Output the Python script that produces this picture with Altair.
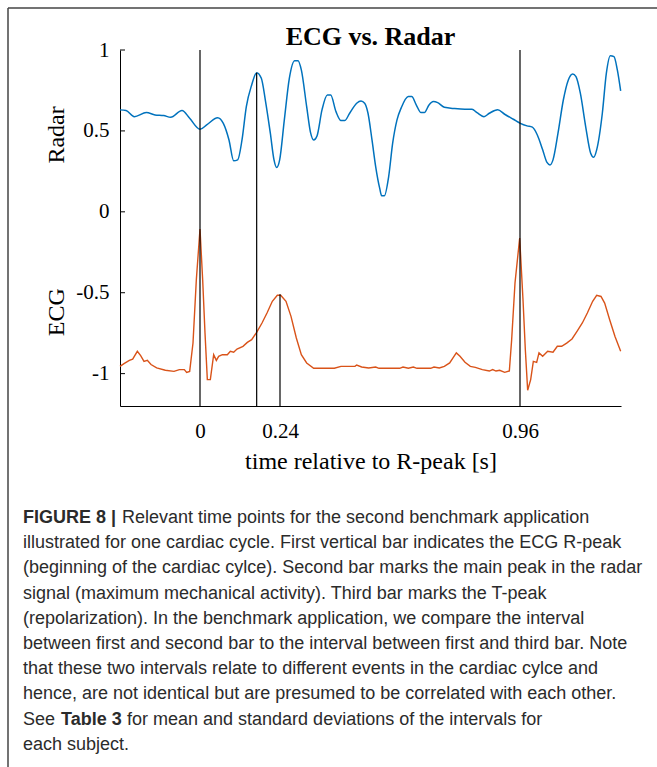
import altair as alt
import pandas as pd

# ---------------- data ----------------
radar_t = [-0.240, -0.222, -0.197, -0.161, -0.135, -0.109, -0.088, -0.054, -0.031, 0.000,
           0.020, 0.053, 0.070, 0.087, 0.101, 0.113, 0.126, 0.139, 0.155, 0.170,
           0.184, 0.196, 0.211, 0.222, 0.230, 0.239, 0.253, 0.268, 0.284, 0.294,
           0.304, 0.320, 0.332, 0.341, 0.351, 0.366, 0.382, 0.392, 0.408, 0.423,
           0.434, 0.449, 0.470, 0.483, 0.494, 0.504, 0.516, 0.527, 0.539, 0.545,
           0.553, 0.566, 0.578, 0.591, 0.604, 0.625, 0.635, 0.649, 0.663, 0.673,
           0.687, 0.700, 0.713, 0.733, 0.764, 0.795, 0.816, 0.831, 0.852, 0.868,
           0.893, 0.914, 0.940, 0.961, 0.981, 0.997, 1.012, 1.028, 1.041, 1.050,
           1.059, 1.074, 1.090, 1.105, 1.118, 1.128, 1.141, 1.157, 1.172, 1.181,
           1.190, 1.207, 1.219, 1.231, 1.242, 1.252, 1.262]
radar_v = [0.630, 0.626, 0.588, 0.613, 0.599, 0.595, 0.584, 0.626, 0.578, 0.510,
           0.537, 0.582, 0.547, 0.444, 0.315, 0.321, 0.444, 0.650, 0.784, 0.860,
           0.825, 0.691, 0.486, 0.321, 0.274, 0.321, 0.568, 0.825, 0.934, 0.934,
           0.877, 0.650, 0.486, 0.444, 0.469, 0.630, 0.722, 0.722, 0.619, 0.564,
           0.564, 0.609, 0.671, 0.685, 0.671, 0.609, 0.444, 0.280, 0.146, 0.099,
           0.099, 0.218, 0.424, 0.568, 0.644, 0.712, 0.712, 0.660, 0.613, 0.613,
           0.660, 0.681, 0.675, 0.646, 0.638, 0.634, 0.634, 0.613, 0.588, 0.609,
           0.630, 0.603, 0.572, 0.547, 0.531, 0.523, 0.475, 0.383, 0.305, 0.290,
           0.321, 0.486, 0.691, 0.815, 0.852, 0.835, 0.733, 0.527, 0.362, 0.337,
           0.383, 0.609, 0.856, 0.965, 0.959, 0.877, 0.747]

ecg_t = [-0.240, -0.228, -0.212, -0.202, -0.188, -0.178, -0.168, -0.158, -0.147, -0.130,
         -0.104, -0.078, -0.062, -0.047, -0.040, -0.031, -0.021, -0.011, 0.000, 0.008,
         0.015, 0.022, 0.031, 0.041, 0.049, 0.056, 0.067, 0.082, 0.091, 0.101,
         0.111, 0.129, 0.142, 0.155, 0.170, 0.186, 0.201, 0.217, 0.232, 0.242,
         0.258, 0.273, 0.289, 0.304, 0.320, 0.341, 0.403, 0.423, 0.465, 0.470,
         0.485, 0.506, 0.527, 0.537, 0.599, 0.609, 0.625, 0.640, 0.651, 0.692,
         0.702, 0.718, 0.733, 0.749, 0.759, 0.769, 0.780, 0.795, 0.811, 0.826,
         0.847, 0.868, 0.878, 0.888, 0.899, 0.914, 0.928, 0.935, 0.945, 0.959,
         0.969, 0.976, 0.983, 0.992, 1.000, 1.010, 1.017, 1.028, 1.043, 1.059,
         1.072, 1.085, 1.100, 1.116, 1.131, 1.147, 1.162, 1.178, 1.190, 1.203,
         1.214, 1.229, 1.245, 1.262]
ecg_v = [-0.955, -0.938, -0.918, -0.910, -0.862, -0.889, -0.924, -0.918, -0.944, -0.965,
         -0.979, -0.986, -0.975, -0.975, -0.992, -0.986, -0.811, -0.420, -0.107, -0.420,
         -0.749, -1.037, -1.037, -0.883, -0.918, -0.893, -0.883, -0.883, -0.862, -0.868,
         -0.848, -0.831, -0.807, -0.790, -0.745, -0.687, -0.625, -0.553, -0.516, -0.516,
         -0.553, -0.646, -0.780, -0.883, -0.934, -0.967, -0.967, -0.955, -0.955, -0.947,
         -0.959, -0.965, -0.959, -0.967, -0.967, -0.959, -0.967, -0.959, -0.967, -0.967,
         -0.959, -0.965, -0.955, -0.934, -0.903, -0.872, -0.893, -0.930, -0.955, -0.961,
         -0.975, -0.984, -0.975, -0.984, -0.979, -0.992, -0.984, -0.790, -0.440, -0.162,
         -0.543, -0.852, -1.103, -1.037, -0.924, -0.930, -0.872, -0.893, -0.862, -0.868,
         -0.831, -0.831, -0.811, -0.786, -0.739, -0.687, -0.625, -0.553, -0.516, -0.523,
         -0.564, -0.667, -0.770, -0.862]

bar_t = [0.0, 0.17, 0.24, 0.96]
bar_top = [1.0, 0.86, -0.51, 1.0]

x_ticks = [0, 0.24, 0.96]
y_ticks = [-1, -0.5, 0, 0.5, 1]
x_domain = [-0.24, 1.263]
y_domain = [-1.2, 1.0]

chart_title = "ECG vs. Radar"
x_title = "time relative to R-peak [s]"
y_titles = ["Radar", "ECG"]
y_title_at = [0.475, -0.62]

caption_lines = [
    "Relevant time points for the second benchmark application",
    "illustrated for one cardiac cycle. First vertical bar indicates the ECG R-peak",
    "(beginning of the cardiac cylce). Second bar marks the main peak in the radar",
    "signal (maximum mechanical activity). Third bar marks the T-peak",
    "(repolarization). In the benchmark application, we compare the interval",
    "between first and second bar to the interval between first and third bar. Note",
    "that these two intervals relate to different events in the cardiac cylce and",
    "hence, are not identical but are presumed to be correlated with each other.",
    "for mean and standard deviations of the intervals for",
    "each subject.",
]
caption_bold = ["FIGURE 8 |", "Table 3"]
caption_see = "See"

# ---------------- layout ----------------
W, H = 501, 356
PAD = {"left": 120, "top": 50, "right": 36, "bottom": 361}
SERIF = "Liberation Serif"
SANS = "Liberation Sans"

radar_df = pd.DataFrame({"t": radar_t, "v": radar_v})
ecg_df = pd.DataFrame({"t": ecg_t, "v": ecg_v})
bars_df = pd.DataFrame({"t": bar_t, "top": bar_top, "bot": [y_domain[0]] * len(bar_t)})
yt_df = pd.DataFrame({"yt": y_ticks})
ylab_df = pd.DataFrame({"lab": y_titles, "pos": y_title_at})
one = pd.DataFrame({"k": [0]})

xs = alt.Scale(domain=x_domain, nice=False, zero=False)
ys = alt.Scale(domain=y_domain, nice=False, zero=False)

x_axis = alt.Axis(values=x_ticks, labelExpr="'' + datum.value", title=x_title,
                  grid=False, tickSize=0, labelPadding=31, labelBaseline="alphabetic",
                  labelFont=SERIF, labelFontSize=21, labelColor="black",
                  titleFont=SERIF, titleFontSize=24, titleFontWeight="normal",
                  titleColor="black", titleY=62, titleBaseline="alphabetic",
                  domainColor="black", domainWidth=1)
y_axis = alt.Axis(values=y_ticks, labelExpr="'' + datum.value", title="",
                  grid=False, tickSize=0, labelPadding=11,
                  labelFont=SERIF, labelFontSize=21, labelColor="black",
                  domainColor="black", domainWidth=1)

radar = alt.Chart(radar_df).mark_line(color="#0072BD", strokeWidth=1.5,
                                      interpolate="monotone").encode(
    x=alt.X("t:Q", scale=xs, axis=x_axis),
    y=alt.Y("v:Q", scale=ys, axis=y_axis),
)
ecg = alt.Chart(ecg_df).mark_line(color="#D95319", strokeWidth=1.4).encode(
    x=alt.X("t:Q", scale=xs, axis=x_axis),
    y=alt.Y("v:Q", scale=ys, axis=y_axis),
)
bars = alt.Chart(bars_df).mark_rule(color="black", strokeWidth=1.2).encode(
    x=alt.X("t:Q", scale=xs, axis=x_axis),
    y=alt.Y("top:Q", scale=ys, axis=y_axis),
    y2="bot:Q",
)
yticks = alt.Chart(yt_df).mark_rule(color="black", strokeWidth=1).encode(
    y=alt.Y("yt:Q", scale=ys, axis=y_axis),
    x=alt.value(0), x2=alt.value(5),
)
ylabels = alt.Chart(ylab_df).mark_text(angle=270, font=SERIF, fontSize=24, color="black",
                                       align="center", baseline="middle").encode(
    y=alt.Y("pos:Q", scale=ys, axis=y_axis),
    x=alt.value(-63),
    text="lab:N",
)
title = alt.Chart(one).mark_text(font=SERIF, fontSize=26, fontWeight="bold", color="black",
                                 align="center", baseline="alphabetic").encode(
    x=alt.value(W / 2), y=alt.value(-5), text=alt.value(chart_title))

# frame lines around figure (top and left)
frame_top = alt.Chart(one).mark_rule(color="#444", strokeWidth=1.5).encode(
    x=alt.value(-112), x2=alt.value(W + PAD["right"]), y=alt.value(-42))
frame_left = alt.Chart(one).mark_rule(color="#444", strokeWidth=1.5).encode(
    x=alt.value(-112), y=alt.value(-42), y2=alt.value(H + PAD["bottom"]))

# caption
cap_layers = []
X0 = 23 - PAD["left"]
Y0 = 518 - PAD["top"]
LH = 25.2
txt = dict(font=SANS, fontSize=18, color="#2b2b2b", align="left", baseline="middle")
for i, line in enumerate(caption_lines):
    if i == 0:
        xpos = X0 + 99
    elif i == 8:
        xpos = X0 + 104
    else:
        xpos = X0
    cap_layers.append(alt.Chart(one).mark_text(**txt).encode(
        x=alt.value(xpos), y=alt.value(Y0 + i * LH), text=alt.value(line)))
cap_layers.append(alt.Chart(one).mark_text(fontWeight="bold", **txt).encode(
    x=alt.value(X0), y=alt.value(Y0), text=alt.value(caption_bold[0])))
cap_layers.append(alt.Chart(one).mark_text(**txt).encode(
    x=alt.value(X0), y=alt.value(Y0 + 8 * LH), text=alt.value(caption_see)))
cap_layers.append(alt.Chart(one).mark_text(fontWeight="bold", **txt).encode(
    x=alt.value(X0 + 38), y=alt.value(Y0 + 8 * LH), text=alt.value(caption_bold[1])))

chart = alt.layer(radar, ecg, bars, yticks, ylabels, title, frame_top, frame_left,
                  *cap_layers).properties(
    width=W, height=H,
    padding=PAD,
    autosize=alt.AutoSizeParams(type="none"),
    background="white",
).configure_view(stroke=None)

chart.save("out.html", embed_options={"renderer": "svg", "actions": False})
